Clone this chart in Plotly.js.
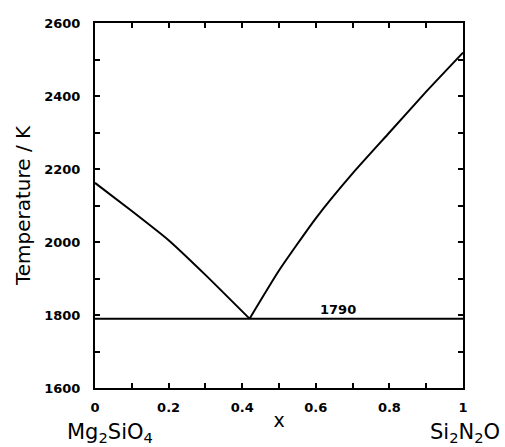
<!DOCTYPE html>
<html>
<head>
<meta charset="utf-8">
<script src="https://cdn.plot.ly/plotly-3.0.1.min.js"></script>
<style>html,body{margin:0;padding:0;background:#fff;}#chart{width:505px;height:447px;}</style>
</head>
<body>
<div id="chart"></div>
<script>
// Liquidus branch on the Mg2SiO4 side
var xLiqA = [0, 0.1, 0.2, 0.3, 0.42];
var TLiqA = [2162, 2085, 2005, 1910, 1790];
// Liquidus branch on the Si2N2O side
var xLiqB = [0.42, 0.5, 0.6, 0.7, 0.8, 0.9, 1.0];
var TLiqB = [1790, 1922, 2065, 2188, 2300, 2412, 2519];
// Eutectic line
var xEut = [0, 1];
var TEut = [1790, 1790];
var eutLabel = "1790";
var eutLabelX = 0.66;

var xTickVals = [0,0.1,0.2,0.3,0.4,0.5,0.6,0.7,0.8,0.9,1];
var xTickText = ["0","","0.2","","0.4","","0.6","","0.8","","1"];
var yTickVals = [1600,1700,1800,1900,2000,2100,2200,2300,2400,2500,2600];
var yTickText = ["1600","","1800","","2000","","2200","","2400","","2600"];

var font = "DejaVu Sans, sans-serif";
var tickFont = {family: font, size: 13, color: "#000", weight: "bold"};
var lineStyle = {color: "#000", width: 2, shape: "spline", smoothing: 0.5};

var traces = [
  {x: xLiqA, y: TLiqA, mode: "lines", line: lineStyle, hoverinfo: "skip"},
  {x: xLiqB, y: TLiqB, mode: "lines", line: lineStyle, hoverinfo: "skip"},
  {x: xEut, y: TEut, mode: "lines", line: {color: "#000", width: 2}, hoverinfo: "skip"}
];

var axisCommon = {
  showgrid: false, zeroline: false,
  showline: true, linecolor: "#000", linewidth: 2, mirror: "ticks",
  ticks: "inside", ticklen: 5, tickwidth: 2, tickcolor: "#000",
  tickfont: tickFont
};

var layout = {
  width: 505, height: 447,
  margin: {l: 95, r: 42, t: 23, b: 59},
  paper_bgcolor: "#fff", plot_bgcolor: "#fff",
  showlegend: false,
  xaxis: Object.assign({}, axisCommon, {
    range: [0, 1], tickmode: "array", tickvals: xTickVals, ticktext: xTickText,
    ticklabelstandoff: 6,
    title: {text: "x", font: {family: font, size: 19, color: "#000"}, standoff: 0}
  }),
  yaxis: Object.assign({}, axisCommon, {
    range: [1600, 2600], tickmode: "array", tickvals: yTickVals, ticktext: yTickText,
    ticklabelstandoff: 10,
    title: {text: "Temperature / K", font: {family: font, size: 20, color: "#000"}, standoff: 8}
  }),
  annotations: [
    {x: eutLabelX, y: TEut[0], xref: "x", yref: "y", text: eutLabel, showarrow: false,
     xanchor: "center", yanchor: "bottom", yshift: 0,
     font: tickFont},
    {x: -0.082, y: -0.123, xref: "paper", yref: "paper", text: "Mg<sub>2</sub>SiO<sub>4</sub>",
     showarrow: false, xanchor: "left", yanchor: "middle",
     font: {family: font, size: 21, color: "#000"}},
    {x: 1.106, y: -0.123, xref: "paper", yref: "paper", text: "Si<sub>2</sub>N<sub>2</sub>O",
     showarrow: false, xanchor: "right", yanchor: "middle",
     font: {family: font, size: 21, color: "#000"}}
  ]
};

Plotly.newPlot("chart", traces, layout, {staticPlot: true, displayModeBar: false});
</script>
</body>
</html>
